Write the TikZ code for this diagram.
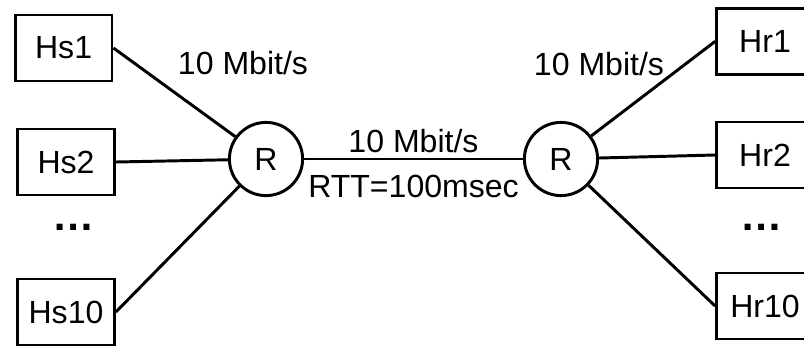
\documentclass[tikz,border=0pt]{standalone}
\usepackage{fontspec}
\setmainfont{Liberation Sans}
\usepackage{tikz}
\usetikzlibrary{positioning}
\tikzset{
  host/.style={rectangle, draw=black, minimum width=2.42cm,
    minimum height=1.65cm, inner sep=0pt,
    font=\fontsize{22.8}{27}\selectfont, line width=2.1pt},
  router/.style={circle, draw=black, minimum size=1.83cm,
    inner sep=0pt, font=\fontsize{22.8}{27}\selectfont, line width=2.1pt},
  link/.style={line width=2.1pt, color=black},
  rate/.style={font=\fontsize{22.8}{27}\selectfont},
  dots/.style={font=\fontsize{30}{34}\selectfont\bfseries}
}

\begin{document}
\begin{tikzpicture}
  \useasboundingbox (0,0) rectangle (20.1,8.675);
  % senders
  \node[host] (hs1) at (1.59,7.475) {Hs1};
  \node[host] (hs2) at (1.65,4.625) {Hs2};
  \node[host] (hs10) at (1.65,0.875) {Hs10};
  \node[dots] (sdots) at (1.83,3.0) {…};
  % receivers
  \node[host] (hr1) at (19.125,7.64) {Hr1};
  \node[host] (hr2) at (19.125,4.8) {Hr2};
  \node[host] (hr10) at (19.125,1.025) {Hr10};
  \node[dots] (rdots) at (19.03,3.0) {…};
  % routers
  \node[router] (rl) at (6.65,4.7) {R};
  \node[router] (rr) at (14.025,4.7) {R};
  \draw[link] (hs1.east) -- (rl);
  \draw[link] (hs2.east) -- (rl);
  \draw[link] (hs10.east) -- (rl);
  \draw[link] (rr) -- (hr1.west);
  \draw[link] (rr) -- (hr2.west);
  \draw[link] (rr) -- (hr10.west);
  \draw[link] (rl) -- node[midway,above,rate] (bw) {10 Mbit/s}
    node[midway,below=0.25cm,rate] (rtt) {RTT=100msec} (rr);
  \node[rate] (lrate) at (6.075,7.1) {10 Mbit/s};
  \node[rate] (rrate) at (14.975,7.075) {10 Mbit/s};
\end{tikzpicture}
\end{document}
